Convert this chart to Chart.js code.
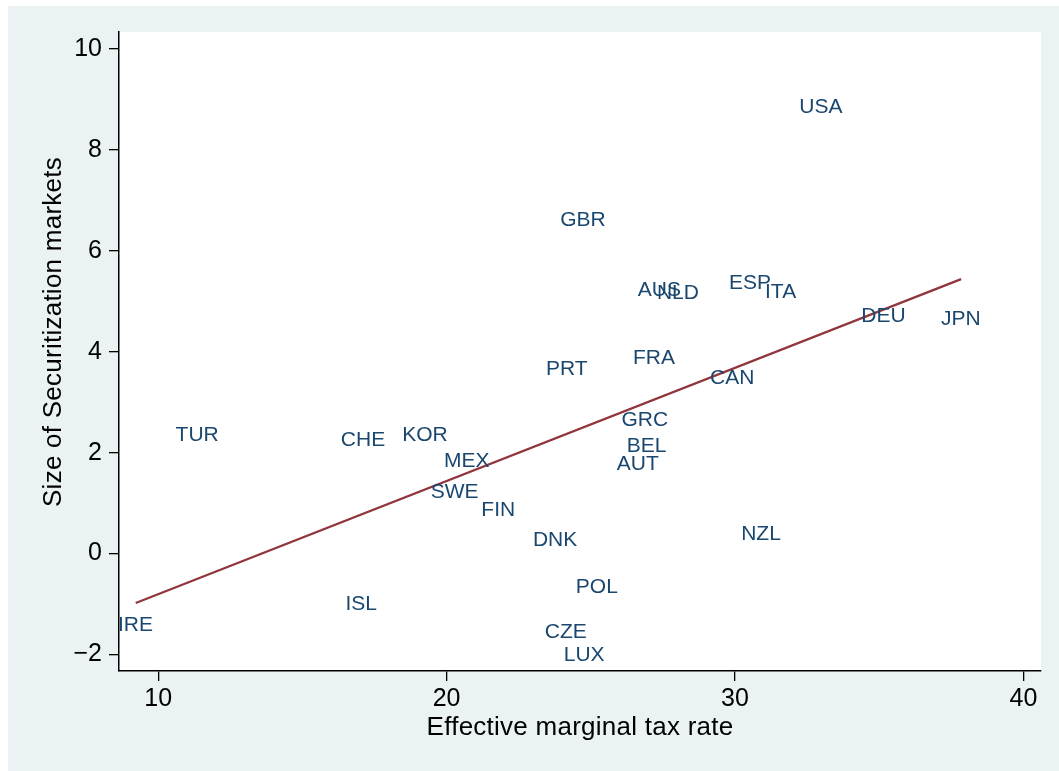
<!DOCTYPE html>
<html>
<head>
<meta charset="utf-8">
<title>Securitization and marginal tax rates</title>
<script src="https://cdn.jsdelivr.net/npm/chart.js@4/dist/chart.umd.min.js"></script>
<style>
  html, body { margin: 0; padding: 0; background: #ffffff; }
  #wrap { width: 1059px; height: 771px; }
</style>
</head>
<body>
<div id="wrap"><canvas id="c" width="1059" height="771"></canvas></div>
<script>
// Country codes and their coordinates
const countries = ['USA','GBR','AUS','NLD','ESP','ITA','DEU','JPN','FRA','PRT','CAN','GRC','BEL','AUT',
                   'TUR','CHE','KOR','MEX','SWE','FIN','DNK','NZL','POL','ISL','IRE','CZE','LUX'];
const taxRate = [32.98, 24.73, 27.38, 28.02, 30.52, 31.58, 35.15, 37.83, 27.19, 24.17, 29.90, 26.87, 26.93, 26.63,
                 11.35, 17.10, 19.25, 20.70, 20.28, 21.79, 23.76, 30.90, 25.21, 17.04, 9.21, 24.13, 24.77];
const securitization = [8.89, 6.64, 5.25, 5.19, 5.39, 5.21, 4.74, 4.68, 3.91, 3.69, 3.51, 2.67, 2.16, 1.81,
                        2.37, 2.28, 2.38, 1.87, 1.25, 0.90, 0.30, 0.42, -0.63, -0.97, -1.38, -1.53, -1.99];

// Fitted values at the ends of the sample
const fitX = [9.22, 37.84];
const fitY = [-0.98, 5.44];

// Axis ticks
const xTicks = [10, 20, 30, 40];
const yTicks = [-2, 0, 2, 4, 6, 8, 10];

const xTitle = 'Effective marginal tax rate';
const yTitle = 'Size of Securitization markets';

const FONT = '"Liberation Sans", Arial, Helvetica, sans-serif';
const BG = '#EAF2F3';
const LABEL_COLOR = '#1A476F';
const FIT_COLOR = '#90353B';

const points = countries.map((c, i) => ({ x: taxRate[i], y: securitization[i], label: c }));
const fitLine = fitX.map((x, i) => ({ x: x, y: fitY[i] }));

const fmt = v => (v < 0 ? '\u2212' + Math.abs(v) : String(v));

// Background: outer panel and white plot region
const backdrop = {
  id: 'backdrop',
  beforeDraw(chart) {
    const { ctx, chartArea: a } = chart;
    ctx.save();
    ctx.fillStyle = '#ffffff';
    ctx.fillRect(0, 0, chart.width, chart.height);
    ctx.fillStyle = BG;
    ctx.fillRect(8, 6, chart.width - 8, chart.height - 6);
    ctx.fillStyle = '#ffffff';
    ctx.fillRect(a.left, a.top, a.right - a.left, a.bottom - a.top);
    ctx.restore();
  }
};

// Country codes drawn centred on each observation
const markerLabels = {
  id: 'markerLabels',
  afterDatasetsDraw(chart) {
    const { ctx } = chart;
    const meta = chart.getDatasetMeta(0);
    const size = 21;
    ctx.save();
    ctx.font = size + 'px ' + FONT;
    ctx.fillStyle = LABEL_COLOR;
    ctx.textAlign = 'center';
    ctx.textBaseline = 'alphabetic';
    meta.data.forEach((el, i) => {
      const p = chart.data.datasets[0].data[i];
      ctx.fillText(p.label, el.x, el.y + size * 0.358);
    });
    ctx.restore();
  }
};

// Axis titles
const axisTitles = {
  id: 'axisTitles',
  afterDraw(chart) {
    const { ctx, chartArea: a } = chart;
    ctx.save();
    ctx.font = '26px ' + FONT;
    if ('letterSpacing' in ctx) ctx.letterSpacing = '0.25px';
    ctx.fillStyle = '#000000';
    ctx.textAlign = 'center';
    ctx.textBaseline = 'alphabetic';
    ctx.fillText(xTitle, (a.left + a.right) / 2, 735);
    ctx.translate(60.5, 332);
    ctx.rotate(-Math.PI / 2);
    ctx.fillText(yTitle, 0, 0);
    ctx.restore();
  }
};

new Chart(document.getElementById('c'), {
  type: 'scatter',
  data: {
    datasets: [
      {
        label: 'Securitization',
        data: points,
        pointRadius: 0,
        pointHoverRadius: 0,
        showLine: false
      },
      {
        type: 'line',
        label: 'Fitted values',
        data: fitLine,
        borderColor: FIT_COLOR,
        borderWidth: 2.2,
        pointRadius: 0,
        fill: false,
        tension: 0
      }
    ]
  },
  options: {
    responsive: false,
    animation: false,
    devicePixelRatio: 1,
    events: [],
    layout: { padding: { left: 0, top: 32, right: 18, bottom: 0 } },
    plugins: {
      legend: { display: false },
      tooltip: { enabled: false },
      title: { display: false }
    },
    scales: {
      x: {
        type: 'linear',
        position: 'bottom',
        min: 8.64,
        max: 40.61,
        afterBuildTicks: s => { s.ticks = xTicks.map(v => ({ value: v })); },
        afterFit: s => { s.height = 100; },
        grid: { drawOnChartArea: false, drawTicks: true, tickLength: 10, color: '#000000', lineWidth: 1.3 },
        border: { display: true, color: '#000000', width: 1.5 },
        ticks: {
          font: { family: FONT, size: 25 },
          color: '#000000',
          padding: 3,
          maxRotation: 0,
          autoSkip: false,
          callback: v => fmt(v)
        },
        title: { display: false }
      },
      y: {
        type: 'linear',
        position: 'left',
        min: -2.33,
        max: 10.34,
        afterBuildTicks: s => { s.ticks = yTicks.map(v => ({ value: v })); },
        afterFit: s => { s.width = 119; },
        grid: { drawOnChartArea: false, drawTicks: true, tickLength: 10, color: '#000000', lineWidth: 1.3 },
        border: { display: true, color: '#000000', width: 1.5 },
        ticks: {
          font: { family: FONT, size: 25 },
          color: '#000000',
          padding: 7,
          autoSkip: false,
          callback: v => fmt(v)
        },
        title: { display: false }
      }
    }
  },
  plugins: [backdrop, markerLabels, axisTitles]
});
</script>
</body>
</html>
